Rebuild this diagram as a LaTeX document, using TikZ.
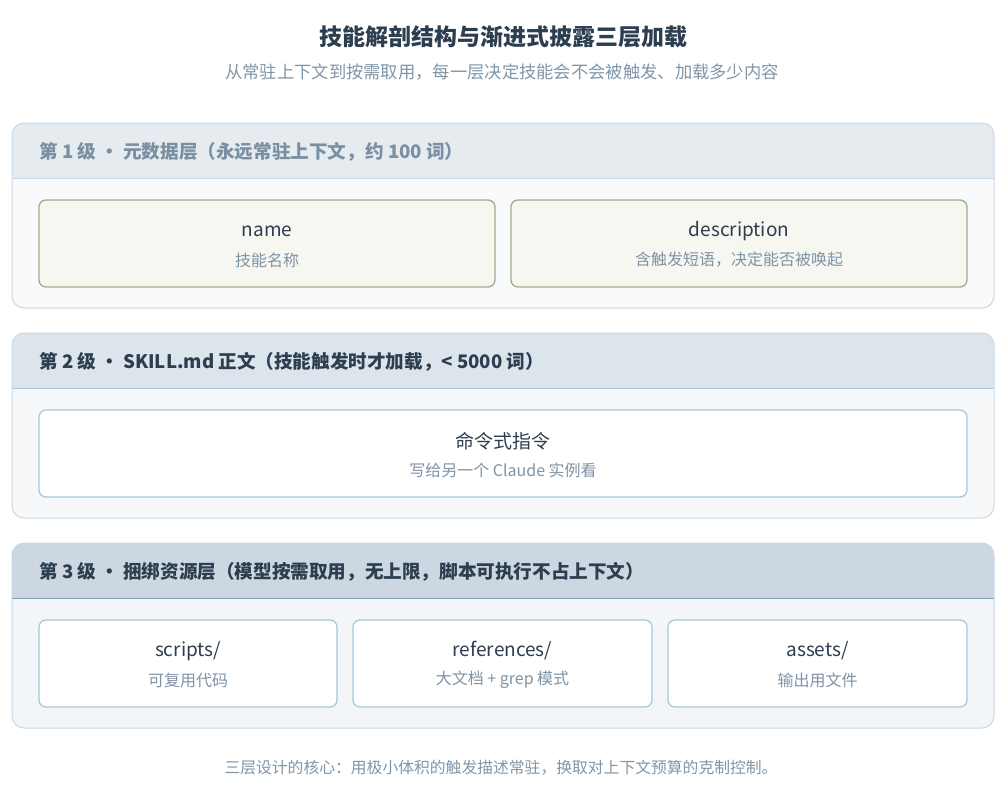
\documentclass[tikz,border=0pt]{standalone}
\usepackage{fontspec}
\setmainfont{Noto Sans CJK SC}
\definecolor{titlec}{HTML}{2C3E50}
\definecolor{mutedc}{HTML}{8096A8}
\definecolor{hdrAtext}{HTML}{7B8FA3}
\definecolor{hdrAfill}{HTML}{E6EBF0}
\definecolor{bodyA}{HTML}{F8FAFB}
\definecolor{borderA}{HTML}{CAD8E4}
\definecolor{hdrBfill}{HTML}{DCE4EC}
\definecolor{bodyB}{HTML}{F6F8FA}
\definecolor{sepB}{HTML}{A9C9DB}
\definecolor{hdrCfill}{HTML}{CCD7E1}
\definecolor{bodyC}{HTML}{F3F6F9}
\definecolor{sepC}{HTML}{7F9DB3}
\definecolor{greenfill}{HTML}{F5F7F0}
\definecolor{greenborder}{HTML}{9FAE8A}
\definecolor{blueborder}{HTML}{A8C9DB}
\definecolor{subc}{HTML}{7F93A6}
\definecolor{boxtext}{HTML}{2C3E50}
\begin{document}
\begin{tikzpicture}[x=1pt,y=-1pt,
  panel/.style={draw=borderA, line width=1pt, rounded corners=12pt},
  hdrtext/.style={anchor=west, font=\bfseries\fontsize{18.6}{22}\selectfont, inner sep=0pt},
  itembox/.style={rounded corners=7pt, line width=1.3pt, minimum height=87pt, inner sep=0pt},
  greenbox/.style={itembox, draw=greenborder, fill=greenfill},
  bluebox/.style={itembox, draw=blueborder, fill=white},
  itemtitle/.style={font=\fontsize{19}{22}\selectfont, text=boxtext, inner sep=0pt},
  itemsub/.style={font=\fontsize{16}{19}\selectfont, text=subc, inner sep=0pt}
]
\useasboundingbox[fill=white] (0,0) rectangle (1004,790);

% title
\node[font=\bfseries\fontsize{23}{27}\selectfont, text=titlec, inner sep=0pt] (title) at (503,37) {技能解剖结构与渐进式披露三层加载};
\node[font=\fontsize{17.3}{20}\selectfont, text=mutedc, inner sep=0pt] (subtitle) at (502,72) {从常驻上下文到按需取用，每一层决定技能会不会被触发、加载多少内容};

% ---------- Tier 1 ----------
\fill[bodyA, rounded corners=12pt] (12,123) rectangle (994,308);
\begin{scope}
  \clip[rounded corners=12pt] (12,123) rectangle (994,308);
  \fill[hdrAfill] (12,123) rectangle (994,178);
\end{scope}
\coordinate (s1a) at (12,178);
\coordinate (s1b) at (994,178);
\draw[borderA, line width=1pt] (s1a) -- (s1b);
\node[panel, minimum width=982pt, minimum height=185pt] (p1) at (503,215.5) {};
\node[hdrtext, text=hdrAtext] (h1) at (39,152) {第 1 级 • 元数据层（永远常驻上下文，约 100 词）};

\node[greenbox, minimum width=456pt] (name) at (267,243.5) {};
\node[itemtitle] (nameT) at (267,231) {name};
\node[itemsub] (nameS) at (267,260) {技能名称};
\node[greenbox, minimum width=456pt] (desc) at (739,243.5) {};
\node[itemtitle] (descT) at (739,231) {description};
\node[itemsub] (descS) at (739,260) {含触发短语，决定能否被唤起};

% ---------- Tier 2 ----------
\fill[bodyB, rounded corners=12pt] (12,333) rectangle (994,518);
\begin{scope}
  \clip[rounded corners=12pt] (12,333) rectangle (994,518);
  \fill[hdrBfill] (12,333) rectangle (994,388);
\end{scope}
\coordinate (s2a) at (12,388);
\coordinate (s2b) at (994,388);
\draw[sepB, line width=1pt] (s2a) -- (s2b);
\node[panel, minimum width=982pt, minimum height=185pt] (p2) at (503,425.5) {};
\node[hdrtext, text=titlec] (h2) at (39,362) {第 2 级 • SKILL.md 正文（技能触发时才加载，< 5000 词）};

\node[bluebox, minimum width=928pt] (body) at (503,453.5) {};
\node[itemtitle] (bodyT) at (503,441) {命令式指令};
\node[itemsub] (bodyS) at (503,470) {写给另一个 Claude 实例看};

% ---------- Tier 3 ----------
\fill[bodyC, rounded corners=12pt] (12,543) rectangle (994,728);
\begin{scope}
  \clip[rounded corners=12pt] (12,543) rectangle (994,728);
  \fill[hdrCfill] (12,543) rectangle (994,598);
\end{scope}
\coordinate (s3a) at (12,598);
\coordinate (s3b) at (994,598);
\draw[sepC, line width=1pt] (s3a) -- (s3b);
\node[panel, minimum width=982pt, minimum height=185pt] (p3) at (503,635.5) {};
\node[hdrtext, text=titlec] (h3) at (39,572) {第 3 级 • 捆绑资源层（模型按需取用，无上限，脚本可执行不占上下文）};

\node[bluebox, minimum width=298pt] (scripts) at (188,663.5) {};
\node[itemtitle] (scriptsT) at (188,651) {scripts/};
\node[itemsub] (scriptsS) at (188,680) {可复用代码};
\node[bluebox, minimum width=299pt] (refs) at (502.5,663.5) {};
\node[itemtitle] (refsT) at (502.5,651) {references/};
\node[itemsub] (refsS) at (502.5,680) {大文档 + grep 模式};
\node[bluebox, minimum width=299pt] (assets) at (817.5,663.5) {};
\node[itemtitle] (assetsT) at (817.5,651) {assets/};
\node[itemsub] (assetsS) at (817.5,680) {输出用文件};

% footer
\node[font=\fontsize{15.8}{19}\selectfont, text=mutedc, inner sep=0pt] (footer) at (501,768) {三层设计的核心：用极小体积的触发描述常驻，换取对上下文预算的克制控制。};
\end{tikzpicture}
\end{document}
